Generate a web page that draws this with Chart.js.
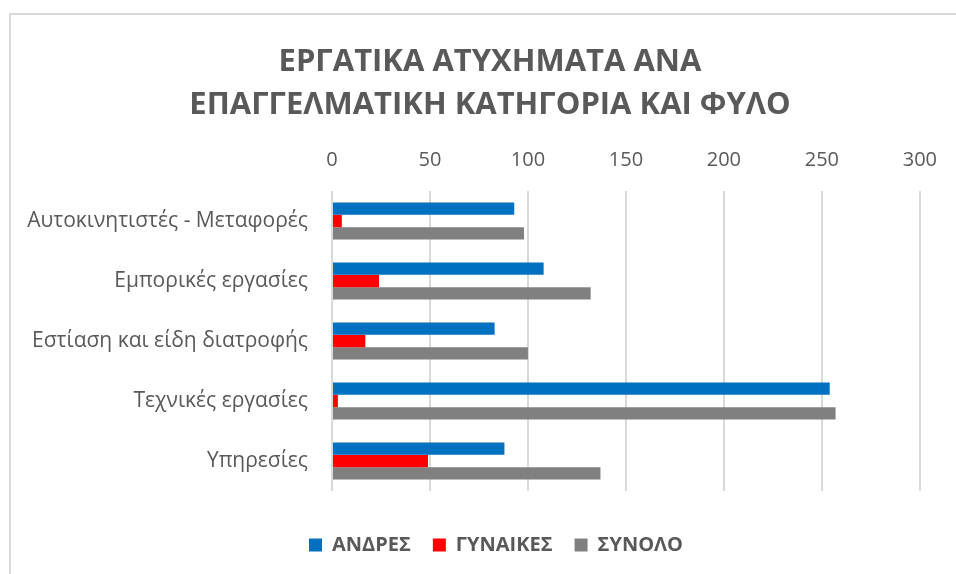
<!DOCTYPE html>
<html>
<head>
<meta charset="utf-8">
<script src="https://cdn.jsdelivr.net/npm/chart.js@4.4.1/dist/chart.umd.min.js"></script>
<style>
  html, body { margin: 0; padding: 0; background: #fff; }
  #wrap { position: relative; width: 956px; height: 574px; overflow: hidden; }
  #frame {
    position: absolute; left: 9px; top: 13px; width: 1000px; height: 600px;
    border-left: 2px solid #d9d9d9; border-top: 2px solid #d9d9d9;
  }
  canvas { position: absolute; left: 0; top: 0; }
</style>
</head>
<body>
<div id="wrap">
  <div id="frame"></div>
  <canvas id="chart" width="956" height="574"></canvas>
</div>
<script>
const TITLE_LINES = ["ΕΡΓΑΤΙΚΑ ΑΤΥΧΗΜΑΤΑ ΑΝΑ", "ΕΠΑΓΓΕΛΜΑΤΙΚΗ ΚΑΤΗΓΟΡΙΑ ΚΑΙ ΦΥΛΟ"];

const categories = [
  "Αυτοκινητιστές - Μεταφορές",
  "Εμπορικές εργασίες",
  "Εστίαση και είδη διατροφής",
  "Τεχνικές εργασίες",
  "Υπηρεσίες",
];

const seriesNames = ["ΑΝΔΡΕΣ", "ΓΥΝΑΙΚΕΣ", "ΣΥΝΟΛΟ"];
const andres = [93, 108, 83, 254, 88];
const gynaikes = [5, 24, 17, 3, 49];
const synolo = [98, 132, 100, 257, 137];

// value axis: 0 to 300, every 50
const X_MIN = 0;
const X_MAX = 300;
const X_STEP = 50;

const ink = "#595959";
const gridColor = "#d9d9d9";
const FONT = "'Open Sans', 'Noto Sans', sans-serif";

const seriesColors = ["#0070C0", "#FF0000", "#808080"];

/** Title and legend sit a bit right of the canvas centre, as in the source sheet. */
const shiftBlocks = {
  id: "shiftBlocks",
  afterLayout(chart) {
    if (chart.titleBlock) chart.titleBlock.left += 48;
    if (chart.legend) chart.legend.left += 60;
  },
};

new Chart(document.getElementById("chart"), {
  type: "bar",
  data: {
    labels: categories,
    datasets: [andres, gynaikes, synolo].map((values, i) => ({
      label: seriesNames[i],
      data: values,
      backgroundColor: seriesColors[i],
      borderWidth: 0,
      barPercentage: 1,
      categoryPercentage: 0.62,
    })),
  },
  plugins: [shiftBlocks],
  options: {
    indexAxis: "y",
    responsive: false,
    animation: false,
    layout: { padding: { top: 0, left: 10, right: 34, bottom: 9 } },
    plugins: {
      tooltip: { enabled: false },
      title: {
        display: true,
        text: TITLE_LINES,
        color: ink,
        font: { family: FONT, size: 31, weight: "bold", lineHeight: 43 / 31 },
        padding: { top: 41, bottom: 0 },
      },
      legend: {
        display: true,
        position: "bottom",
        title: { display: true, text: " ", font: { size: 10, lineHeight: 1 }, padding: { top: 12, bottom: 0 } },
        labels: {
          color: ink,
          font: { family: FONT, size: 20, weight: "bold" },
          boxWidth: 13,
          boxHeight: 13,
          padding: 22,
        },
      },
    },
    scales: {
      x: {
        position: "top",
        min: X_MIN,
        max: X_MAX,
        afterFit(scale) { scale.height = 64; },
        ticks: {
          stepSize: X_STEP,
          color: ink,
          padding: 19,
          font: { family: FONT, size: 20 },
        },
        grid: { color: gridColor, lineWidth: 2, drawTicks: false },
        border: { display: false },
      },
      y: {
        afterFit(scale) { scale.width = 322; },
        ticks: {
          color: ink,
          padding: 24,
          font: { family: FONT, size: 21 },
        },
        grid: { display: false, drawTicks: false },
        border: { display: false },
      },
    },
  },
});
</script>
</body>
</html>
